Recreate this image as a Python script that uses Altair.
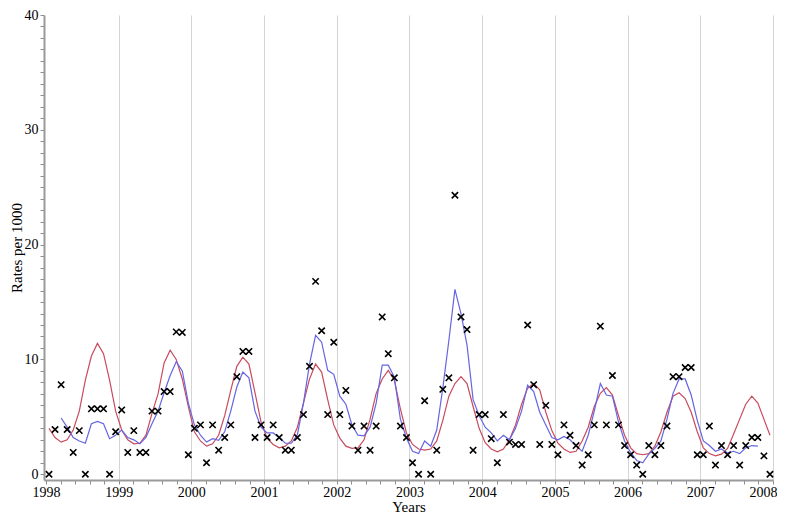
import altair as alt
import pandas as pd

# ---- data (monthly, Jan 1998 .. Dec 2007) ----
start_year = 1998
observed = [
    0.0, 3.9, 7.8, 3.9, 1.9, 3.8, 0.0, 5.7, 5.7, 5.7, 0.0, 3.7,      # 1998
    5.6, 1.9, 3.8, 1.9, 1.9, 5.5, 5.5, 7.2, 7.2, 12.4, 12.35, 1.7,   # 1999
    4.0, 4.3, 1.0, 4.3, 2.1, 3.2, 4.3, 8.5, 10.7, 10.7, 3.2, 4.3,    # 2000
    3.2, 4.3, 3.2, 2.1, 2.1, 3.2, 5.2, 9.4, 16.8, 12.5, 5.2, 11.5,   # 2001
    5.2, 7.3, 4.2, 2.1, 4.2, 2.1, 4.2, 13.7, 10.5, 8.4, 4.2, 3.2,    # 2002
    1.0, 0.0, 6.4, 0.0, 2.1, 7.4, 8.4, 24.3, 13.7, 12.6, 2.1, 5.2,   # 2003
    5.2, 3.1, 1.0, 5.2, 2.8, 2.6, 2.6, 13.0, 7.8, 2.6, 6.0, 2.6,     # 2004
    1.7, 4.3, 3.4, 2.5, 0.8, 1.7, 4.3, 12.9, 4.3, 8.6, 4.3, 2.5,     # 2005
    1.7, 0.8, 0.0, 2.5, 1.7, 2.5, 4.2, 8.5, 8.5, 9.3, 9.3, 1.7,      # 2006
    1.7, 4.2, 0.8, 2.5, 1.7, 2.5, 0.8, 2.5, 3.2, 3.2, 1.6, 0.0,      # 2007
]
red_fit = [
    4.0, 3.2, 2.8, 3.0, 3.85, 5.5, 8.2, 10.3, 11.4, 10.5, 8.2, 5.5,
    3.85, 3.0, 2.65, 2.7, 3.4, 5.3, 7.0, 9.7, 10.8, 10.0, 8.3, 5.9,
    3.7, 2.9, 2.45, 2.65, 3.4, 5.1, 7.3, 9.4, 10.2, 9.6, 7.1, 4.55,
    3.15, 2.6, 2.3, 2.45, 2.9, 4.1, 6.2, 8.3, 9.6, 8.9, 6.5, 4.3,
    3.15, 2.45, 2.25, 2.3, 3.0, 4.8, 7.05, 8.3, 9.05, 8.2, 5.7, 3.6,
    2.6, 2.2, 2.1, 2.2, 2.9, 4.7, 6.8, 7.9, 8.5, 7.9, 5.9, 4.0,
    2.75, 2.2, 1.95, 2.2, 3.0, 4.3, 6.1, 7.5, 7.9, 7.35, 5.4, 3.8,
    2.7, 2.2, 1.9, 2.0, 2.9, 4.1, 5.9, 7.05, 7.55, 6.9, 5.1, 3.4,
    2.3, 1.8, 1.7, 1.8, 2.45, 3.7, 5.4, 6.8, 7.1, 6.6, 5.4, 3.7,
    2.3, 1.8, 1.6, 1.75, 2.25, 3.5, 4.8, 6.1, 6.8, 6.2, 4.8, 3.4,
]
blue_first_month = 2   # the blue series starts in March 1998
blue_fit = [
    4.9, 4.1, 3.2, 2.9, 2.7, 4.4, 4.6, 4.4, 3.1, 3.4,
    3.85, 3.2, 3.0, 2.65, 3.2, 4.4, 5.5, 7.1, 8.6, 9.8, 9.0, 6.2,
    4.3, 3.4, 2.8, 3.1, 2.95, 3.7, 5.5, 7.6, 8.9, 8.4, 5.5, 4.1,
    3.6, 3.6, 3.2, 2.7, 2.7, 3.45, 6.2, 9.6, 12.1, 11.5, 9.05, 8.7,
    6.8, 6.1, 4.3, 3.4, 3.35, 4.1, 6.2, 9.5, 9.5, 8.45, 4.8, 3.15,
    2.0, 1.8, 2.9, 2.45, 3.85, 7.5, 11.65, 16.1, 14.0, 11.25, 6.5, 5.1,
    4.1, 3.6, 2.9, 3.4, 3.0, 4.0, 5.5, 7.75, 7.2, 5.4, 4.3, 3.2,
    3.0, 3.3, 3.0, 2.45, 2.0, 3.4, 5.5, 7.9, 6.9, 6.8, 4.55, 2.9,
    1.9, 1.2, 1.0, 1.75, 2.25, 2.9, 4.8, 7.05, 8.3, 8.3, 6.9, 4.7,
    2.9, 2.5, 2.0, 2.2, 1.85, 2.0, 1.8, 2.3, 2.5, 2.45,
]
x_ticks = [round(start_year + 0.2 * k, 1) for k in range(51)]
y_ticks = list(range(0, 41))


def dec_year(m):
    return start_year + (m + 0.5) / 12.0


obs_df = pd.DataFrame({"t": [dec_year(m) for m in range(len(observed))], "v": observed})
red_df = pd.DataFrame({"t": [dec_year(m) for m in range(len(red_fit))], "v": red_fit})
blue_df = pd.DataFrame({"t": [dec_year(m + blue_first_month) for m in range(len(blue_fit))], "v": blue_fit})

serif = "Liberation Serif"
W, H = 729, 465

major_x = "abs(datum.value - round(datum.value)) < 0.01"
x_axis = alt.Axis(
    values=x_ticks,
    title="Years",
    labelExpr=f"{major_x} ? toString(round(datum.value)) : ''",
    labelFlush=True,
    labelFlushOffset=4,
    labelOverlap=False,
    labelFont=serif, labelFontSize=14, labelColor="black", labelPadding=1,
    tickSize=4, tickColor="#8c8c8c", tickWidth=1,
    domainColor="#9a9a9a", domainWidth=2,
    grid=True, gridColor="#d4d4d4", gridWidth=1,
    gridOpacity={"condition": {"test": f"{major_x} && datum.value > 1998.5", "value": 1}, "value": 0},
    titleFont=serif, titleFontSize=15, titleFontWeight="normal", titleColor="black",
    titleY=19, titleBaseline="top",
)
y_axis = alt.Axis(
    values=y_ticks,
    title="Rates per 1000",
    labelExpr="datum.value % 10 === 0 ? datum.label : ''",
    labelOverlap=False,
    labelFont=serif, labelFontSize=14, labelColor="black", labelPadding=2,
    tickSize=4, tickColor="#8c8c8c", tickWidth=1,
    domainColor="#9a9a9a", domainWidth=2,
    grid=False,
    titleFont=serif, titleFontSize=15, titleFontWeight="normal", titleColor="black",
    titleX=-35, titleY=H / 2, titleAngle=270, titleBaseline="top", titleAlign="center",
)

x_enc = alt.X("t:Q", scale=alt.Scale(domain=[1997.973, 2008.0], nice=False, zero=False), axis=x_axis)
y_enc = alt.Y("v:Q", scale=alt.Scale(domain=[-0.5, 40], nice=False, zero=False), axis=y_axis)

red_line = alt.Chart(red_df).mark_line(color="#c84b5c", strokeWidth=1.2).encode(x=x_enc, y=y_enc)
blue_line = alt.Chart(blue_df).mark_line(color="#6565e3", strokeWidth=1.2).encode(x=x_enc, y=y_enc)
points = alt.Chart(obs_df).mark_point(
    shape="M-1,-1L1,1M-1,1L1,-1", filled=False, color="black", strokeWidth=1.6, size=40, opacity=1
).encode(x=x_enc, y=y_enc)

chart = alt.layer(red_line, blue_line, points).properties(
    width=W, height=H,
    padding={"left": 36, "top": 7, "right": 4, "bottom": 35},
    autosize=alt.AutoSizeParams(type="none"),
    background="white",
).configure_view(stroke=None)

chart.save("out.html", embed_options={"renderer": "svg", "actions": False})
